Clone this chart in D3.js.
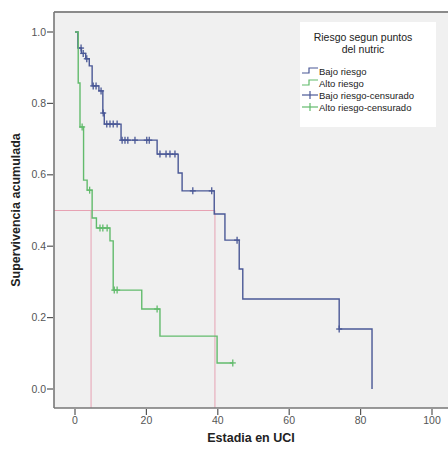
<!DOCTYPE html>
<html>
<head>
<meta charset="utf-8">
<script src="https://cdn.jsdelivr.net/npm/d3@7"></script>
<style>
  body { margin: 0; background: #fff; }
  svg { display: block; font-family: "Liberation Sans", Arial, sans-serif; }
</style>
</head>
<body>
<script>
// Kaplan-Meier steps
const bajoTimes = [0, 0.8, 1.8, 3.0, 4.0, 4.8, 6.7, 7.8, 8.2, 12.9, 23.0, 28.9, 30.0, 39.0, 42.0, 46.0, 47.0, 74.0, 83.2];
const bajoSurv = [1.0, 0.955, 0.94, 0.925, 0.905, 0.849, 0.835, 0.773, 0.742, 0.697, 0.658, 0.605, 0.555, 0.49, 0.417, 0.336, 0.252, 0.168, 0.0];
const bajoCens = [1.7, 2.3, 3.3, 5.1, 5.9, 7.3, 7.9, 8.9, 9.8, 10.7, 11.8, 13.2, 14, 14.8, 16.8, 20.1, 20.8, 23.8, 25.5, 26.6, 28, 33, 38.3, 45.4, 74];
const bajoEnd = 83.2;

const altoTimes = [0, 0.9, 1.4, 2.4, 3.4, 4.8, 6.0, 9.8, 10.7, 18.7, 23.8, 39.8];
const altoSurv = [1.0, 0.857, 0.734, 0.585, 0.557, 0.479, 0.451, 0.415, 0.277, 0.224, 0.148, 0.073];
const altoCens = [2.0, 4.1, 7.0, 7.8, 9.0, 11.0, 11.8, 23.0, 44.2];
const altoEnd = 44.2;

const medians = [4.5, 39.2];
const xTicks = [0, 20, 40, 60, 80, 100];
const yTicks = [0, 0.2, 0.4, 0.6, 0.8, 1.0];
const legendTitle = ['Riesgo segun puntos', 'del nutric'];
const legendItems = ['Bajo riesgo', 'Alto riesgo', 'Bajo riesgo-censurado', 'Alto riesgo-censurado'];

const width = 448;
const height = 453;
const blue = '#4a5896';
const green = '#62bb6c';
const pink = '#e7a2b3';

const x = d3.scaleLinear().domain([0, 100]).range([75, 432]);
const y = d3.scaleLinear().domain([0, 1]).range([389, 32]);

const pLeft = 54, pTop = 12, pBottom = 408, pRight = 448;

const svg = d3.select('body')
  .append('svg')
    .attr('width', width)
    .attr('height', height);

svg.append('rect')
  .attr('x', pLeft).attr('y', pTop)
  .attr('width', pRight - pLeft).attr('height', pBottom - pTop)
  .attr('fill', '#f0f0f0');

// median reference lines
svg.append('line')
  .attr('x1', pLeft).attr('x2', x(medians[1]))
  .attr('y1', y(0.5)).attr('y2', y(0.5))
  .attr('stroke', pink).attr('stroke-width', 1);

svg.selectAll('.med')
  .data(medians)
  .enter()
    .append('line')
      .attr('class', 'med')
      .attr('x1', d => x(d)).attr('x2', d => x(d))
      .attr('y1', y(0.5)).attr('y2', pBottom)
      .attr('stroke', pink).attr('stroke-width', 1);

function survAt(times, surv, t) {
  let s = surv[0];
  times.forEach((tt, i) => { if (tt <= t) s = surv[i]; });
  return s;
}

function drawCurve(times, surv, end, cens, color) {
  const pts = times.map((t, i) => [t, surv[i]]);
  if (end > times[times.length - 1]) pts.push([end, surv[surv.length - 1]]);
  const line = d3.line()
    .x(d => x(d[0]))
    .y(d => y(d[1]))
    .curve(d3.curveStepAfter);
  svg.append('path')
    .attr('d', line(pts))
    .attr('fill', 'none')
    .attr('stroke', color)
    .attr('stroke-width', 1.4);

  const g = svg.append('g');
  cens.forEach(t => {
    const cx = x(t), cy = y(survAt(times, surv, t));
    g.append('line')
      .attr('x1', cx).attr('x2', cx).attr('y1', cy - 3.5).attr('y2', cy + 3.5)
      .attr('stroke', color).attr('stroke-width', 1.3);
    g.append('line')
      .attr('x1', cx - 3).attr('x2', cx + 3).attr('y1', cy).attr('y2', cy)
      .attr('stroke', color).attr('stroke-width', 1.3);
  });
}

drawCurve(bajoTimes, bajoSurv, bajoEnd, bajoCens, blue);
drawCurve(altoTimes, altoSurv, altoEnd, altoCens, green);

// frame
svg.append('line')
  .attr('x1', pLeft).attr('x2', pRight).attr('y1', pTop).attr('y2', pTop)
  .attr('stroke', '#8a8a8a').attr('stroke-width', 2);
svg.append('line')
  .attr('x1', pLeft).attr('x2', pLeft).attr('y1', pTop).attr('y2', pBottom)
  .attr('stroke', '#777').attr('stroke-width', 1.6);
svg.append('line')
  .attr('x1', pLeft).attr('x2', pRight).attr('y1', pBottom).attr('y2', pBottom)
  .attr('stroke', '#777').attr('stroke-width', 1.6);

// axes
const xAxis = svg.append('g');
xTicks.forEach(t => {
  xAxis.append('line')
    .attr('x1', x(t)).attr('x2', x(t)).attr('y1', pBottom + 1).attr('y2', pBottom + 7)
    .attr('stroke', '#555').attr('stroke-width', 1.2);
  xAxis.append('text')
    .attr('x', x(t)).attr('y', pBottom + 16)
    .attr('text-anchor', 'middle')
    .attr('font-size', 10.5).attr('fill', '#555')
    .text(t);
});

const yAxis = svg.append('g');
yTicks.forEach(t => {
  yAxis.append('line')
    .attr('x1', pLeft - 7).attr('x2', pLeft - 1).attr('y1', y(t)).attr('y2', y(t))
    .attr('stroke', '#555').attr('stroke-width', 1.2);
  yAxis.append('text')
    .attr('x', pLeft - 8).attr('y', y(t) + 3.5)
    .attr('text-anchor', 'end')
    .attr('font-size', 10.5).attr('fill', '#555')
    .text(d3.format('.1f')(t));
});

svg.append('text')
  .attr('x', 251).attr('y', 442)
  .attr('text-anchor', 'middle')
  .attr('font-size', 12.5).attr('font-weight', 'bold').attr('fill', '#222')
  .text('Estadia en UCI');

svg.append('text')
  .attr('transform', 'translate(20,210) rotate(-90)')
  .attr('text-anchor', 'middle')
  .attr('font-size', 12.5).attr('font-weight', 'bold').attr('fill', '#222')
  .text('Supervivencia acumulada');

// legend
const lg = svg.append('g');
lg.append('rect')
  .attr('x', 300).attr('y', 22).attr('width', 136).attr('height', 105)
  .attr('fill', '#fff');
legendTitle.forEach((s, i) => {
  lg.append('text')
    .attr('x', 363).attr('y', 41 + i * 12)
    .attr('text-anchor', 'middle')
    .attr('font-size', 10.5).attr('fill', '#222')
    .text(s);
});
const legendColors = [blue, green, blue, green];
legendItems.forEach((s, i) => {
  const ly = 71 + i * 12;
  const c = legendColors[i];
  if (i < 2) {
    lg.append('path')
      .attr('d', `M302,${ly + 2}H309V${ly - 3}H318`)
      .attr('fill', 'none').attr('stroke', c).attr('stroke-width', 1.2);
  } else {
    lg.append('line')
      .attr('x1', 302).attr('x2', 318).attr('y1', ly).attr('y2', ly)
      .attr('stroke', c).attr('stroke-width', 1.2);
    lg.append('line')
      .attr('x1', 310).attr('x2', 310).attr('y1', ly - 4).attr('y2', ly + 4)
      .attr('stroke', c).attr('stroke-width', 1.2);
  }
  lg.append('text')
    .attr('x', 319).attr('y', ly + 3.5)
    .attr('font-size', 9.5).attr('fill', '#222')
    .text(s);
});
</script>
</body>
</html>
